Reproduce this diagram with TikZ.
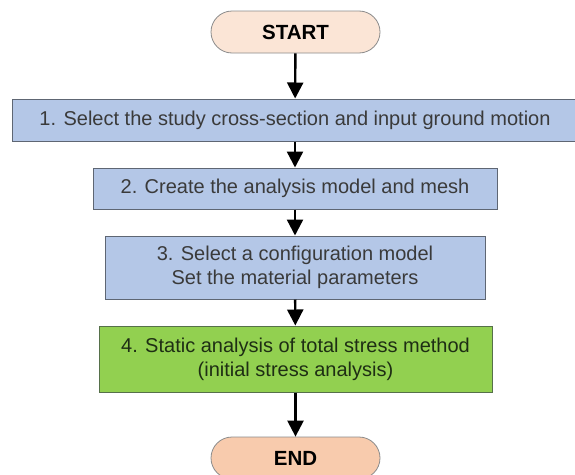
\documentclass[tikz,border=0pt]{standalone}
\usepackage{fontspec}
\setmainfont{Liberation Sans}
\usepackage{tikz}
\usetikzlibrary{arrows.meta,shapes.misc}
\definecolor{startfill}{HTML}{FBE5D6}
\definecolor{endfill}{HTML}{F8CBAD}
\definecolor{termline}{HTML}{8C8C8C}
\definecolor{stepfill}{HTML}{B4C7E7}
\definecolor{stepline}{HTML}{5E6673}
\definecolor{steptext}{HTML}{3A3A3A}
\definecolor{calcfill}{HTML}{92D050}
\definecolor{calcline}{HTML}{56704A}
\definecolor{calctext}{HTML}{1E2E14}
\tikzset{
    term/.style={rounded rectangle,draw=termline,line width=0.8pt,minimum width=169pt,minimum height=42pt,
      inner sep=0pt,font=\fontsize{20.5}{24}\selectfont\bfseries,text=black},
    stepbox/.style={rectangle,draw=stepline,line width=1pt,fill=stepfill,inner sep=0pt,align=center,
      font=\fontsize{20}{24}\selectfont,text=steptext},
    calcbox/.style={stepbox,draw=calcline,fill=calcfill,text=calctext},
    flow/.style={-{Triangle[width=16pt,length=16pt]},line width=2.4pt,black},
  }
\begin{document}
\begin{tikzpicture}[x=1pt,y=-1pt]
				  %cadre
				  \useasboundingbox (0,0) rectangle (575,474);
				  \fill[white] (0,0) rectangle (575,474);

				  %DEBUT
				  \node[term,fill=startfill] (start) at (295.5,32) {START};

				  %ETAPES
				  \node[stepbox,minimum width=566pt,minimum height=42pt] (s1) at (295,120) {1. Select the study cross-section and input ground motion};
				  \node[stepbox,minimum width=404pt,minimum height=41pt] (s2) at (295,188.5) {2. Create the analysis model and mesh};
				  \node[stepbox,minimum width=380pt,minimum height=63pt] (s3) at (295,267.5) {3. Select a configuration model\\Set the material parameters};
				  \node[calcbox,minimum width=393pt,minimum height=66pt] (s4) at (295.5,359) {4. Static analysis of total stress method\\(initial stress analysis)};

				  %FIN
				  \node[term,fill=endfill] (end) at (295.5,458) {END};

				  %FLECHES
				  \draw[flow] (start) -- (s1);
				  \draw[flow] (s1) -- (s2);
				  \draw[flow] (s2) -- (s3);
				  \draw[flow] (s3) -- (s4);
				  \draw[flow] (s4) -- (end);
				  \end{tikzpicture}
\end{document}
